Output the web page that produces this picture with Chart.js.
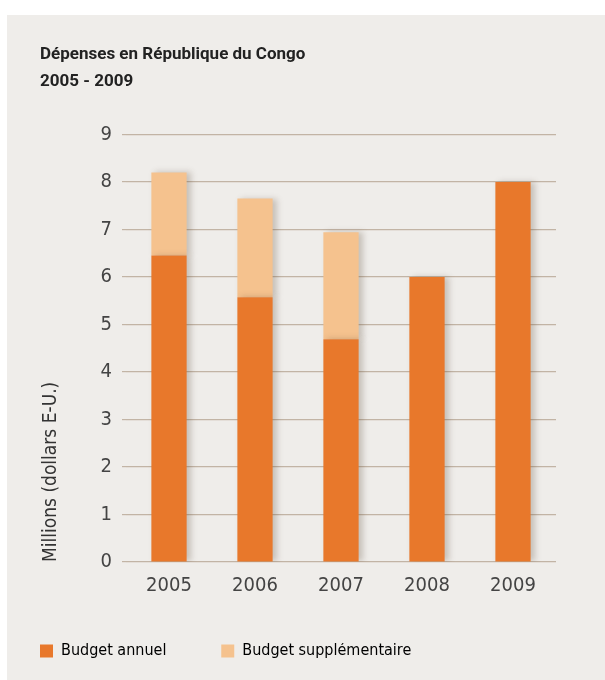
<!DOCTYPE html>
<html>
<head>
<meta charset="utf-8">
<script src="https://cdn.jsdelivr.net/npm/chart.js@4"></script>
<style>
  body { margin: 0; background: #fff; }
  #wrap { position: absolute; left: 7px; top: 15px; width: 598px; height: 665px; background: #efedea; }
</style>
</head>
<body>
<div id="wrap"><canvas id="canvas"></canvas></div>
<script>
const years = ['2005', '2006', '2007', '2008', '2009'];
const budgetAnnuel = [6.45, 5.57, 4.69, 6.0, 8.0];
const budgetSupp = [1.75, 2.08, 2.25, 0, 0];
const yTicks = [0, 1, 2, 3, 4, 5, 6, 7, 8, 9];

const narrow = "'DejaVu Sans Condensed', sans-serif";

const barShadow = {
  id: 'barShadow',
  beforeDatasetsDraw(chart) {
    const c = chart.ctx;
    c.save();
    c.shadowColor = 'rgba(80,60,40,0.25)';
    c.shadowBlur = 6;
    c.shadowOffsetX = 4;
  },
  afterDatasetsDraw(chart) {
    chart.ctx.restore();
  }
};

const ctx = document.getElementById('canvas');

new Chart(ctx, {
  type: 'bar',
  plugins: [barShadow],
  data: {
    labels: years,
    datasets: [{
      label: 'Budget annuel',
      data: budgetAnnuel,
      backgroundColor: '#e8782b',
      barPercentage: 0.41,
      categoryPercentage: 1
    },
    {
      label: 'Budget supplémentaire',
      data: budgetSupp,
      backgroundColor: '#f5c28e',
      barPercentage: 0.41,
      categoryPercentage: 1
    }]
  },
  options: {
    responsive: true,
    maintainAspectRatio: false,
    animation: false,
    layout: {
      padding: { left: 33, right: 49, top: 26, bottom: 11 }
    },
    plugins: {
      title: {
        display: true,
        text: ['Dépenses en République du Congo', '2005 - 2009'],
        align: 'start',
        color: '#222',
        font: { family: 'Roboto, sans-serif', size: 17, weight: 'bold', lineHeight: 1.6 },
        padding: { top: 0, bottom: 39 }
      },
      legend: {
        position: 'bottom',
        align: 'start',
        labels: {
          boxWidth: 13,
          boxHeight: 13,
          padding: 0,
          color: '#333',
          font: { family: narrow, size: 16 },
          generateLabels(chart) {
            return chart.data.datasets.map((ds, i) => ({
              text: ds.label + '            ',
              fillStyle: ds.backgroundColor,
              strokeStyle: ds.backgroundColor,
              lineWidth: 0,
              datasetIndex: i
            }));
          }
        },
        onClick: null
      },
      tooltip: { enabled: false }
    },
    scales: {
      x: {
        stacked: true,
        grid: { display: false },
        border: { display: false },
        ticks: { color: '#444', font: { family: narrow, size: 20 }, padding: 4 },
        afterFit(scale) { scale.height = 81; }
      },
      y: {
        stacked: true,
        min: 0,
        max: 9,
        afterBuildTicks(scale) { scale.ticks = yTicks.map(v => ({ value: v })); },
        grid: { color: '#c2b4a5', lineWidth: 1.2, tickLength: 4 },
        border: { display: false },
        ticks: { color: '#444', font: { family: narrow, size: 20 }, padding: 10 },
        title: {
          display: true,
          text: 'Millions (dollars E-U.)',
          align: 'start',
          color: '#333',
          font: { family: narrow, size: 19 },
          padding: 0
        },
        afterFit(scale) { scale.width = 86; }
      }
    }
  }
});
</script>
</body>
</html>
